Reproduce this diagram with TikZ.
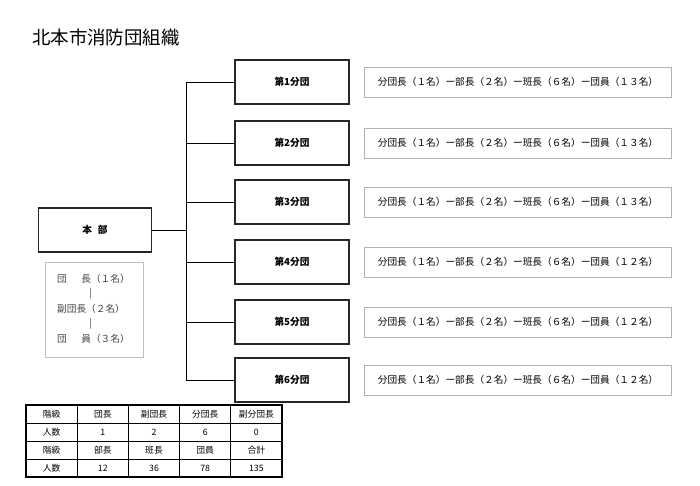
\documentclass[tikz,border=0pt]{standalone}
\usepackage{fontspec}
\setmainfont{Noto Sans CJK JP}
\begin{document}
\begin{tikzpicture}[x=0.02cm,y=-0.02cm,
  unitbox/.style={draw=black!85, semithick, minimum width=2.28cm, minimum height=0.88cm, font=\fontsize{5.5}{6}\selectfont\bfseries},
  memberbox/.style={draw=gray!60, minimum width=6.15cm, minimum height=0.6cm, font=\fontsize{5.5}{6}\selectfont},
  cell/.style={font=\fontsize{5}{6}\selectfont}]
\useasboundingbox (0,0) rectangle (700,486);

% Title
\node[anchor=west, font=\fontsize{10.5}{12}\selectfont] (title) at (26,38) {北本市消防団組織};

% Headquarters
\node[unitbox, minimum width=2.26cm] (hq) at (95,230) {本\hspace{0.6em}部};
\node[draw=gray!50, minimum width=1.96cm, minimum height=1.9cm, anchor=north west] (hqinfo) at (45,262) {};
\node[anchor=west, cell, font=\fontsize{5.5}{6}\selectfont, color=black!75, align=left] (hqtext) at (51,309)
  {団\hspace{1.5em}長（１名）\\[2pt]\hspace{3.3em}|\\[2pt]副団長（２名）\\[2pt]\hspace{3.3em}|\\[2pt]団\hspace{1.5em}員（３名）};

% Trunk
\coordinate (top) at (186,82);
\coordinate (bottom) at (186,380);
\draw (top) -- (bottom);
\draw (hq.east) -- (186,230);

% Units
\foreach \n/\y/\m in {1/82/１３,2/143/１３,3/202/１３,4/262/１２,5/322/１２,6/380/１２} {
  \node[unitbox] (unit\n) at (292,\y) {第\n 分団};
  \draw (186,\y) -- (unit\n.west);
  \node[memberbox] (members\n) at (518,\y) {分団長（１名）ー部長（２名）ー班長（６名）ー団員（\m 名）};
}

% Table
\draw[thick] (26,405) rectangle (282,477);
\foreach \r in {423,441,459} \draw (26,\r) -- (282,\r);
\foreach \c in {77,128,179,230} \draw (\c,405) -- (\c,477);
\foreach \row/\y in {{階級,団長,副団長,分団長,副分団長}/414,{人数,1,2,6,0}/432,{階級,部長,班長,団員,合計}/450,{人数,12,36,78,135}/468} {
  \foreach \t [count=\i] in \row {
    \node[cell] (cell\i) at ({26+51.2*(\i-0.5)},\y) {\t};
  }
}
\end{tikzpicture}
\end{document}
